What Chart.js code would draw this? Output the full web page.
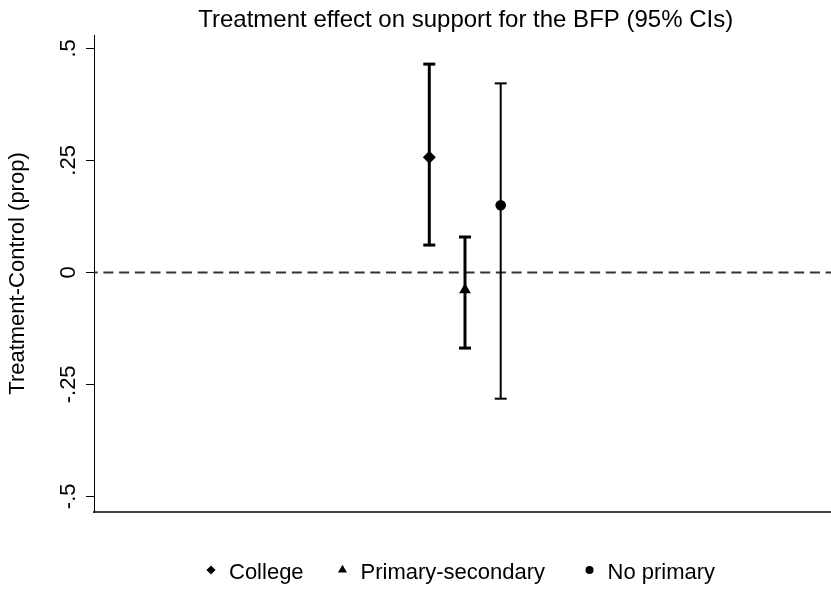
<!DOCTYPE html>
<html>
<head>
<meta charset="utf-8">
<title>Treatment effect on support for the BFP</title>
<script src="https://cdn.jsdelivr.net/npm/chart.js@4/dist/chart.umd.min.js"></script>
<style>
  body { margin: 0; background: #fff; }
  canvas { display: block; }
</style>
</head>
<body>
<canvas id="chart" width="831" height="590"></canvas>
<script>
// groups, point estimates and 95% confidence bounds
const groups = ["College", "Primary-secondary", "No primary"];
const groupPos = [1, 2, 3];
const effect = [0.257, -0.039, 0.150];
const ciLow = [0.061, -0.169, -0.282];
const ciHigh = [0.465, 0.079, 0.422];
const refValue = 0;

const yTickValues = [-0.5, -0.25, 0, 0.25, 0.5];
const yTickLabels = ["-.5", "-.25", "0", ".25", ".5"];

// marker look per group
const markerStyle = ["rectRot", "triangle", "circle"];
const markerSize = [6.5, 6.8, 5.3];
const keySize = [4.6, 5.2, 4];
const ciWidth = [3, 3, 2];

const X_MIN = -8.39, X_MAX = 12.25;
const Y_MIN = -0.535, Y_MAX = 0.53;

const FONT = '"Liberation Sans", Arial, Helvetica, sans-serif';
Chart.defaults.font.family = FONT;
Chart.defaults.color = '#000';

const chartContainer = document.getElementById('chart');

var datasets = [];
groups.forEach((g, i) => {
    datasets.push({
        label: g,
        order: 0,
        data: [{ x: groupPos[i], y: effect[i] }],
        pointStyle: markerStyle[i],
        pointRadius: markerSize[i],
        backgroundColor: '#000',
        borderColor: '#000',
        pointBorderWidth: 0,
    });
});
groups.forEach((g, i) => {
    datasets.push({
        label: g + ' CI',
        order: 1,
        showLine: true,
        data: [{ x: groupPos[i], y: ciLow[i] }, { x: groupPos[i], y: ciHigh[i] }],
        borderColor: '#000',
        borderWidth: ciWidth[i],
        pointStyle: 'line',
        pointRadius: 6,
        pointBorderWidth: ciWidth[i],
        pointBorderColor: '#000',
    });
});
datasets.push({
    label: 'zero',
    order: 2,
    showLine: true,
    data: [{ x: X_MIN, y: refValue }, { x: X_MAX, y: refValue }],
    borderColor: '#333',
    borderWidth: 2,
    borderDash: [10, 5.7],
    borderDashOffset: 6.3,
    pointRadius: 0,
});

// title over the plot
const titlePlugin = {
    id: 'topTitle',
    afterDraw(chart) {
        const ctx = chart.ctx;
        ctx.save();
        ctx.fillStyle = '#000';
        ctx.font = '24px ' + FONT;
        ctx.textAlign = 'center';
        ctx.textBaseline = 'alphabetic';
        ctx.fillText('Treatment effect on support for the BFP (95% CIs)', 465.7, 27);
        ctx.restore();
    }
};

// key row under the plot, markers taken from the estimate datasets
const keyX = [211, 342.5, 589.5];
const keyPlugin = {
    id: 'bottomKey',
    afterDraw(chart) {
        const ctx = chart.ctx;
        ctx.save();
        ctx.font = '22px ' + FONT;
        ctx.textBaseline = 'alphabetic';
        ctx.textAlign = 'left';
        groups.forEach((g, i) => {
            const ds = chart.data.datasets[i];
            ctx.fillStyle = '#000';
            ctx.strokeStyle = '#000';
            Chart.helpers.drawPoint(ctx, {
                pointStyle: ds.pointStyle,
                radius: keySize[i],
                rotation: 0,
                borderWidth: 0,
            }, keyX[i], 570);
            ctx.fillStyle = '#000';
            ctx.fillText(g, keyX[i] + 18, 579);
        });
        ctx.restore();
    }
};

var chart = new Chart(chartContainer, {
    type: 'scatter',
    data: { datasets: datasets },
    plugins: [titlePlugin, keyPlugin],
    options: {
        responsive: false,
        animation: false,
        events: [],
        layout: { autoPadding: false, padding: { top: 35, right: 0, bottom: 0, left: 0 } },
        scales: {
            x: {
                type: 'linear',
                min: X_MIN,
                max: X_MAX,
                afterFit: s => { s.height = 78; },
                ticks: { display: false },
                grid: { display: false },
                border: { display: true, color: '#444', width: 2 },
            },
            y: {
                min: Y_MIN,
                max: Y_MAX,
                afterBuildTicks: s => { s.ticks = yTickValues.map(v => ({ value: v })); },
                afterFit: s => { s.width = 94; },
                ticks: {
                    autoSkip: false,
                    minRotation: 90,
                    maxRotation: 90,
                    crossAlign: 'center',
                    padding: -2,
                    color: '#000',
                    font: { size: 22 },
                    callback: (v, i) => yTickLabels[i],
                },
                grid: {
                    drawOnChartArea: false,
                    drawTicks: true,
                    tickLength: 8,
                    color: '#000',
                    lineWidth: 1,
                },
                border: { display: true, color: '#000', width: 1 },
                title: {
                    display: true,
                    text: 'Treatment-Control (prop)',
                    color: '#000',
                    font: { size: 22 },
                    padding: { top: 5, bottom: 0 },
                },
            },
        },
        plugins: {
            legend: { display: false },
            tooltip: { enabled: false },
        },
    },
});
</script>
</body>
</html>
